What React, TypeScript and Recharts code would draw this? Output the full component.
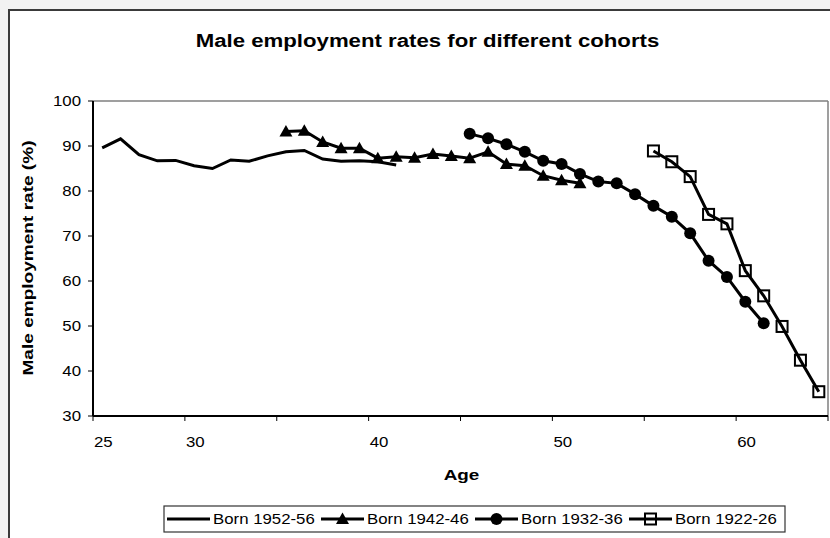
import { LineChart, Line, XAxis, YAxis, ReferenceLine, Legend } from 'recharts';

const FONT = '"Liberation Sans", Arial, sans-serif';
// text in the source is drawn a bit wider than plain Arial
const TICK_STRETCH = 1.16;
const LEGEND_STRETCH = 1.2;

const ages = [
  25, 26, 27, 28, 29, 30, 31, 32, 33, 34, 35, 36, 37, 38, 39, 40, 41, 42, 43, 44,
  45, 46, 47, 48, 49, 50, 51, 52, 53, 54, 55, 56, 57, 58, 59, 60, 61, 62, 63, 64,
];
const xTickLabels = ['25', '30', '40', '50', '60'];
const yTicks = [30, 40, 50, 60, 70, 80, 90, 100];

// employment rate (%) by age, each cohort starting at its first observed age
const born1952 = [89.6, 91.6, 88.1, 86.7, 86.8, 85.6, 85.0, 86.9, 86.6, 87.8, 88.7, 89.0, 87.1, 86.6, 86.7, 86.5, 85.8];
const born1942 = [93.2, 93.4, 90.9, 89.5, 89.5, 87.3, 87.6, 87.4, 88.2, 87.8, 87.3, 88.7, 86.0, 85.6, 83.4, 82.4, 81.7];
const born1932 = [92.7, 91.7, 90.4, 88.7, 86.7, 86.0, 83.8, 82.1, 81.7, 79.3, 76.7, 74.3, 70.6, 64.5, 60.9, 55.4, 50.6];
const born1922 = [88.9, 86.5, 83.2, 74.8, 72.7, 62.3, 56.7, 49.9, 42.4, 35.4];

const seriesNames = ['Born 1952-56', 'Born 1942-46', 'Born 1932-36', 'Born 1922-26'];

type MarkerKind = 'none' | 'triangle' | 'circle' | 'square';

const cohorts: { key: string; name: string; start: number; values: number[]; marker: MarkerKind }[] = [
  { key: 'b1952', name: seriesNames[0], start: 25, values: born1952, marker: 'none' },
  { key: 'b1942', name: seriesNames[1], start: 35, values: born1942, marker: 'triangle' },
  { key: 'b1932', name: seriesNames[2], start: 45, values: born1932, marker: 'circle' },
  { key: 'b1922', name: seriesNames[3], start: 55, values: born1922, marker: 'square' },
];

const data = ages.map((age) => {
  const row: Record<string, number | null> = { age };
  cohorts.forEach((c) => {
    const v = c.values[age - c.start];
    row[c.key] = v === undefined ? null : v;
  });
  return row;
});

// tick marks sit between categories, every 5 years
const xBoundaries = [...ages.filter((_, i) => i % 5 === 0).map((a) => a - 0.5), ages[ages.length - 1] + 0.5];

const Marker = ({ kind, cx, cy }: { kind: MarkerKind; cx: number; cy: number }) => {
  if (kind === 'triangle') {
    return <polygon points={`${cx},${cy - 6.5} ${cx - 6.5},${cy + 5} ${cx + 6.5},${cy + 5}`} fill="#000" />;
  }
  if (kind === 'circle') return <circle cx={cx} cy={cy} r={6} fill="#000" />;
  if (kind === 'square') {
    return <rect x={cx - 5.5} y={cy - 5.5} width={11} height={11} fill="none" stroke="#000" strokeWidth={2} />;
  }
  return null;
};

const makeDot = (kind: MarkerKind) => (p: any) => {
  if (p.cx == null || p.cy == null || p.value == null) return <g key={p.index} />;
  return (
    <g key={p.index}>
      <Marker kind={kind} cx={p.cx} cy={p.cy} />
    </g>
  );
};

const XTick = ({ x, y, payload }: any) => {
  const label = String(payload.value + 0.5);
  if (!xTickLabels.includes(label)) return <g />;
  return (
    <text
      transform={`translate(${x + 1},${y + 23.5}) scale(${TICK_STRETCH},1)`}
      textAnchor="start"
      fontSize={14.5}
      fontFamily={FONT}
      fill="#000"
    >
      {label}
    </text>
  );
};

const YTick = ({ x, y, payload }: any) => (
  <text
    transform={`translate(${x},${y + 5.1}) scale(${TICK_STRETCH},1)`}
    textAnchor="end"
    fontSize={14.5}
    fontFamily={FONT}
    fill="#000"
  >
    {payload.value}
  </text>
);

const renderLegend = () => (
  <svg width={624} height={29} style={{ display: 'block' }}>
    <rect x={1} y={1} width={621} height={26} fill="#fff" stroke="#333" strokeWidth={1.2} />
    {cohorts.map((c, i) => {
      const x0 = 4 + i * 154;
      return (
        <g key={c.key}>
          <line x1={x0} x2={x0 + 43} y1={14} y2={14} stroke="#000" strokeWidth={3} />
          <Marker kind={c.marker} cx={x0 + 21.5} cy={14} />
          <text
            transform={`translate(${x0 + 46},19) scale(${LEGEND_STRETCH},1)`}
            fontSize={14}
            fontFamily={FONT}
            fill="#000"
          >
            {c.name}
          </text>
        </g>
      );
    })}
  </svg>
);

export default function App() {
  return (
    <div
      style={{
        position: 'absolute',
        left: 0,
        top: 0,
        width: 830,
        height: 538,
        overflow: 'hidden',
        background: '#f2f2f2',
      }}
    >
      <div
        style={{
          position: 'absolute',
          left: 8,
          top: 9,
          width: 900,
          height: 600,
          background: '#fff',
          border: '2px solid #3a3a3a',
        }}
      />
      <div style={{ position: 'absolute', left: 0, top: 0 }}>
        <LineChart width={830} height={538} data={data} margin={{ top: 101, right: 2, bottom: 82, left: 33 }}>
          <XAxis
            dataKey="age"
            type="number"
            domain={[24.5, 64.5]}
            ticks={xBoundaries}
            interval={0}
            allowDataOverflow
            height={40}
            tickSize={5}
            tickMargin={2}
            axisLine={{ stroke: '#000', strokeWidth: 2 }}
            tickLine={{ stroke: '#000', strokeWidth: 1 }}
            tick={<XTick />}
          />
          <YAxis
            type="number"
            domain={[30, 100]}
            ticks={yTicks}
            interval={0}
            allowDataOverflow
            width={60}
            tickSize={5}
            tickMargin={7}
            axisLine={{ stroke: '#000', strokeWidth: 2 }}
            tickLine={{ stroke: '#000', strokeWidth: 1 }}
            tick={<YTick />}
          />
          <ReferenceLine y={100} stroke="#7f7f7f" strokeWidth={1.5} />
          <ReferenceLine x={64.5} stroke="#7f7f7f" strokeWidth={1.5} />
          {cohorts.map((c) => (
            <Line
              key={c.key}
              type="linear"
              dataKey={c.key}
              name={c.name}
              stroke="#000"
              strokeWidth={3}
              dot={c.marker === 'none' ? false : makeDot(c.marker)}
              activeDot={false}
              connectNulls={false}
              isAnimationActive={false}
            />
          ))}
          <Legend
            verticalAlign="middle"
            align="center"
            content={renderLegend}
            wrapperStyle={{ left: 163, top: 505, width: 624, height: 29 }}
          />
        </LineChart>
      </div>
      <svg
        width={830}
        height={538}
        style={{ position: 'absolute', left: 0, top: 0, pointerEvents: 'none' }}
      >
        <text
          transform={`translate(427.5,46.5) scale(1.2,1)`}
          textAnchor="middle"
          fontSize={18.5}
          fontWeight="bold"
          fontFamily={FONT}
          fill="#000"
        >
          Male employment rates for different cohorts
        </text>
        <text
          transform={`translate(461.5,479.5) scale(1.22,1)`}
          textAnchor="middle"
          fontSize={15.5}
          fontWeight="bold"
          fontFamily={FONT}
          fill="#000"
        >
          Age
        </text>
        <text
          transform={`translate(33,258) rotate(-90) scale(1.23,1)`}
          textAnchor="middle"
          fontSize={15.5}
          fontWeight="bold"
          fontFamily={FONT}
          fill="#000"
        >
          Male employment rate (%)
        </text>
      </svg>
    </div>
  );
}
